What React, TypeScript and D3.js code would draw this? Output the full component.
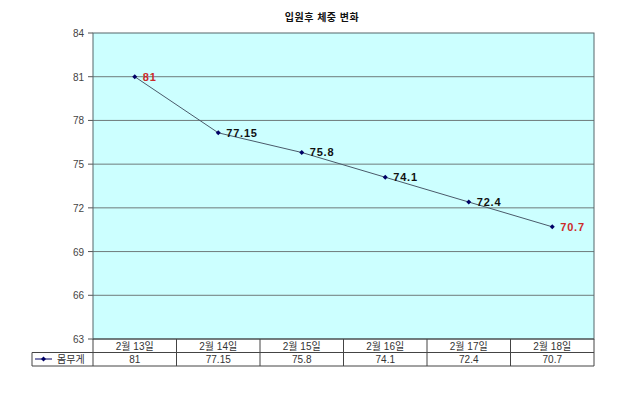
import * as d3 from 'd3';

const categories = ['2월 13일', '2월 14일', '2월 15일', '2월 16일', '2월 17일', '2월 18일'];
const weights = [81, 77.15, 75.8, 74.1, 72.4, 70.7];
const labels = ['81', '77.15', '75.8', '74.1', '72.4', '70.7'];
const highlight = [true, false, false, false, false, true];
const yTicks = [63, 66, 69, 72, 75, 78, 81, 84];
const seriesName = '몸무게';
const title = '입원후 체중 변화';

const font = '"Liberation Sans", "Noto Sans CJK KR", sans-serif';

export default function App() {
    const width = 640;
    const height = 393;
    const left = 93;
    const right = 594;
    const top = 33;
    const bottom = 339;
    const rowH = 13.5;
    const legendLeft = 32;

    const x = d3.scaleBand<string>().domain(categories).range([left, right]);
    const y = d3.scaleLinear().domain([63, 84]).range([bottom, top]);

    const line = d3
        .line<number>()
        .x((_, i) => (x(categories[i]) as number) + x.bandwidth() / 2)
        .y((d) => y(d));

    const diamond = (cx: number, cy: number, r: number) =>
        `M${cx},${cy - r}L${cx + r},${cy}L${cx},${cy + r}L${cx - r},${cy}Z`;

    const row1 = bottom;
    const row2 = bottom + rowH;
    const row3 = bottom + rowH * 2;

    return (
        <svg
            width={width}
            height={height}
            style={{ position: 'absolute', left: 0, top: 0, background: '#fff' }}
            fontFamily={font}
        >
            <text
                x={322}
                y={21}
                textAnchor='middle'
                fontSize={10}
                fontWeight='bold'
                letterSpacing={0.5}
                fill='#111'
            >
                {title}
            </text>

            <rect x={left} y={top} width={right - left} height={bottom - top} fill='#ccffff' />

            {yTicks.map((t) => (
                <g key={t}>
                    {t !== 63 && t !== 84 && (
                        <line x1={left} x2={right} y1={y(t)} y2={y(t)} stroke='#6e7b7b' strokeWidth={1} />
                    )}
                    <line x1={left - 5} x2={left} y1={y(t)} y2={y(t)} stroke='#555' />
                    <text x={84} y={y(t) + 4} textAnchor='end' fontSize={10} fill='#444'>
                        {t}
                    </text>
                </g>
            ))}

            <rect
                x={left}
                y={top}
                width={right - left}
                height={bottom - top}
                fill='none'
                stroke='#55676a'
                strokeWidth={1}
            />

            <path d={line(weights) ?? ''} fill='none' stroke='#4a5a6a' strokeWidth={1} />

            {weights.map((w, i) => {
                const cx = (x(categories[i]) as number) + x.bandwidth() / 2;
                const cy = y(w);
                return (
                    <g key={i}>
                        <path d={diamond(cx, cy, 2.5)} fill='#000066' />
                        <text
                            x={cx + 8}
                            y={cy + 4}
                            fontSize={11}
                            fontWeight='bold'
                            letterSpacing={0.8}
                            fill={highlight[i] ? '#cc2a2a' : '#111'}
                        >
                            {labels[i]}
                        </text>
                    </g>
                );
            })}

            {/* data table */}
            <line x1={left} x2={right} y1={row1} y2={row1} stroke='#444' />
            <line x1={legendLeft} x2={right} y1={row2} y2={row2} stroke='#444' />
            <line x1={legendLeft} x2={right} y1={row3} y2={row3} stroke='#444' />
            <line x1={legendLeft} x2={legendLeft} y1={row2} y2={row3} stroke='#444' />
            {categories.map((c, i) => (
                <line
                    key={`v${i}`}
                    x1={x(c) as number}
                    x2={x(c) as number}
                    y1={row1}
                    y2={row3}
                    stroke='#444'
                />
            ))}
            <line x1={right} x2={right} y1={row1} y2={row3} stroke='#444' />

            {categories.map((c, i) => (
                <g key={`c${i}`}>
                    <text
                        x={(x(c) as number) + x.bandwidth() / 2}
                        y={row1 + 10.5}
                        textAnchor='middle'
                        fontSize={10}
                        fill='#333'
                    >
                        {c}
                    </text>
                    <text
                        x={(x(c) as number) + x.bandwidth() / 2}
                        y={row2 + 10.5}
                        textAnchor='middle'
                        fontSize={10}
                        fill='#333'
                    >
                        {labels[i]}
                    </text>
                </g>
            ))}

            <line x1={legendLeft + 3} x2={legendLeft + 20} y1={row2 + 6.5} y2={row2 + 6.5} stroke='#000066' />
            <path d={diamond(legendLeft + 11.5, row2 + 6.5, 2.5)} fill='#000066' />
            <text x={legendLeft + 25} y={row2 + 10.5} fontSize={10} fill='#333'>
                {seriesName}
            </text>
        </svg>
    );
}
